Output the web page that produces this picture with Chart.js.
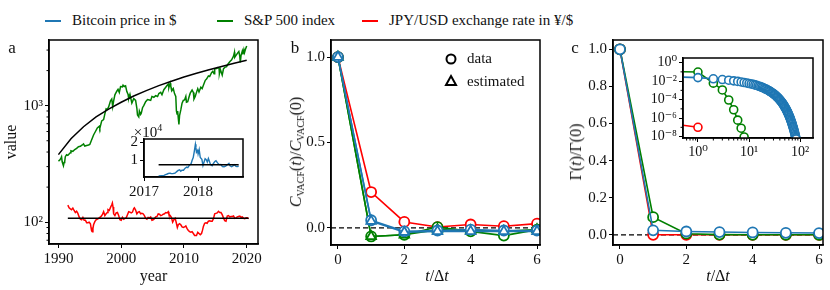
<!DOCTYPE html>
<html>
<head>
<meta charset="utf-8">
<script src="https://cdn.jsdelivr.net/npm/chart.js@4.4.0/dist/chart.umd.min.js"></script>
<style>
  body { margin: 0; width: 830px; height: 290px; background: #fff; position: relative; overflow: hidden;
         font-family: 'Liberation Serif', 'DejaVu Serif', serif; color: #111; }
  canvas { position: absolute; }
  .txt { position: absolute; white-space: nowrap; line-height: 1; }
  .lg { position: absolute; top: 12px; font-size: 15px; white-space: nowrap; display: flex; align-items: center; }
  .sw { display: inline-block; width: 16px; height: 2px; margin-right: 11px; }
  .rot { transform: translate(-50%, -50%) rotate(-90deg); }
  .ctr { transform: translate(-50%, -50%); }
  sub { font-size: 10px; vertical-align: -3px; }
</style>
</head>
<body>

<div class="lg" style="left:45px"><span class="sw" style="background:#1f77b4"></span>Bitcoin price in $</div>
<div class="lg" style="left:217px"><span class="sw" style="background:#008000"></span>S&amp;P 500 index</div>
<div class="lg" style="left:362px"><span class="sw" style="background:#ff0000"></span>JPY/USD exchange rate in ¥/$</div>

<canvas id="panelA" width="270" height="290" style="left:0;top:0"></canvas>
<canvas id="insetA" width="140" height="80" style="left:110px;top:120px"></canvas>
<canvas id="panelB" width="270" height="290" style="left:278px;top:0"></canvas>
<canvas id="panelC" width="275" height="290" style="left:555px;top:0"></canvas>
<canvas id="insetC" width="175" height="115" style="left:645px;top:45px"></canvas>

<div class="txt ctr" style="left:12px;top:47px;font-size:17px">a</div>
<div class="txt ctr" style="left:295px;top:47px;font-size:17px">b</div>
<div class="txt ctr" style="left:575px;top:47px;font-size:17px">c</div>
<div class="txt ctr" style="left:148px;top:131px;font-size:15px">×10<sup style="font-size:10px">4</sup></div>
<div class="txt rot" style="left:297px;top:152px;font-size:16px"><i>C</i><sub>VACF</sub>(<i>t</i>)/<i>C</i><sub>VACF</sub>(0)</div>
<div class="txt ctr" style="left:437px;top:276px;font-size:16px"><i>t</i>/Δ<i>t</i></div>
<div class="txt rot" style="left:576px;top:152px;font-size:16px">Γ(<i>t</i>)/Γ(0)</div>
<div class="txt ctr" style="left:718px;top:276px;font-size:16px"><i>t</i>/Δ<i>t</i></div>

<script>
// ---------- panel a: S&P 500, JPY/USD (log axis) ----------
const spYears = [1990.0, 1990.2, 1990.4, 1990.5, 1990.6, 1990.8, 1990.9, 1991.0, 1991.1, 1991.3, 1991.5, 1991.7, 1991.9,
  1992.0, 1992.3, 1992.6, 1992.9, 1993.2, 1993.5, 1993.8, 1994.0, 1994.2, 1994.5, 1994.8, 1995.0, 1995.3, 1995.6, 1995.9,
  1996.2, 1996.5, 1996.6, 1996.9, 1997.2, 1997.4, 1997.6, 1997.8, 1998.0, 1998.3, 1998.5, 1998.65, 1998.8, 1999.0, 1999.3,
  1999.5, 1999.7, 1999.9, 2000.2, 2000.3, 2000.5, 2000.7, 2000.9, 2001.1, 2001.2, 2001.4, 2001.7, 2001.8, 2002.0, 2002.3,
  2002.5, 2002.6, 2002.8, 2002.9, 2003.1, 2003.2, 2003.4, 2003.6, 2003.9, 2004.2, 2004.5, 2004.7, 2004.9, 2005.2, 2005.5,
  2005.8, 2006.0, 2006.3, 2006.5, 2006.8, 2007.1, 2007.3, 2007.5, 2007.6, 2007.8, 2007.9, 2008.1, 2008.3, 2008.5, 2008.7,
  2008.8, 2008.9, 2009.0, 2009.1, 2009.2, 2009.3, 2009.5, 2009.7, 2009.9, 2010.1, 2010.3, 2010.4, 2010.6, 2010.8, 2011.0,
  2011.3, 2011.5, 2011.6, 2011.8, 2012.0, 2012.2, 2012.4, 2012.7, 2012.9, 2013.1, 2013.4, 2013.6, 2013.9, 2014.1, 2014.4,
  2014.6, 2014.8, 2014.9, 2015.2, 2015.4, 2015.6, 2015.65, 2015.8, 2016.0, 2016.1, 2016.3, 2016.5, 2016.8, 2017.0, 2017.3,
  2017.6, 2017.9, 2018.05, 2018.1, 2018.3, 2018.6, 2018.75, 2018.9, 2018.98, 2019.1, 2019.3, 2019.4, 2019.55, 2019.65,
  2019.8, 2020.0];
const spValues = [335, 340, 355, 365, 330, 305, 325, 330, 365, 380, 375, 385, 395,
  410, 405, 420, 430, 445, 448, 460, 470, 450, 455, 460, 465, 510, 560, 600,
  645, 665, 640, 740, 760, 850, 940, 930, 975, 1100, 1140, 980, 1100, 1240, 1330,
  1380, 1300, 1460, 1450, 1500, 1460, 1480, 1320, 1250, 1150, 1250, 1050, 1080, 1150, 1110,
  950, 830, 800, 900, 840, 860, 960, 1000, 1080, 1130, 1120, 1110, 1200, 1180, 1220,
  1200, 1270, 1300, 1240, 1370, 1440, 1490, 1530, 1430, 1560, 1470, 1350, 1400, 1270, 1200,
  900, 850, 900, 780, 690, 820, 920, 1050, 1110, 1120, 1200, 1070, 1080, 1180, 1280,
  1360, 1300, 1140, 1200, 1300, 1400, 1310, 1440, 1400, 1500, 1650, 1690, 1800, 1780, 1920,
  1970, 1880, 2070, 2080, 2120, 2090, 1880, 2050, 1900, 1830, 2070, 2130, 2160, 2270, 2380,
  2470, 2660, 2870, 2600, 2700, 2850, 2920, 2650, 2350, 2700, 2940, 2750, 3020, 2850,
  3050, 3250];
const spFitYears = [1990, 1992, 1994, 1996, 1998, 2000, 2002, 2004, 2006, 2008, 2010, 2012, 2014, 2016, 2018, 2020];
const spFitValues = [380, 520, 660, 800, 935, 1070, 1210, 1345, 1485, 1620, 1760, 1895, 2035, 2170, 2310, 2450];

const jpyYears = [1991.5, 1991.7, 1991.9, 1992.1, 1992.3, 1992.5, 1992.7, 1992.9, 1993.1, 1993.3, 1993.5, 1993.7, 1993.9,
  1994.1, 1994.3, 1994.5, 1994.7, 1994.9, 1995.1, 1995.2, 1995.3, 1995.4, 1995.5, 1995.6, 1995.8, 1996.0, 1996.3, 1996.5,
  1996.8, 1997.0, 1997.2, 1997.4, 1997.6, 1997.8, 1997.9, 1998.1, 1998.3, 1998.5, 1998.6, 1998.7, 1998.8, 1999.0, 1999.2,
  1999.4, 1999.6, 1999.8, 2000.0, 2000.2, 2000.4, 2000.6, 2000.8, 2001.0, 2001.2, 2001.4, 2001.6, 2001.8, 2002.0, 2002.1,
  2002.3, 2002.5, 2002.7, 2002.9, 2003.1, 2003.3, 2003.5, 2003.7, 2003.9, 2004.1, 2004.3, 2004.5, 2004.7, 2004.9, 2005.1,
  2005.3, 2005.5, 2005.7, 2005.9, 2006.1, 2006.3, 2006.5, 2006.7, 2006.9, 2007.1, 2007.3, 2007.5, 2007.6, 2007.8, 2008.0,
  2008.2, 2008.4, 2008.6, 2008.8, 2008.95, 2009.1, 2009.3, 2009.5, 2009.7, 2009.9, 2010.1, 2010.3, 2010.5, 2010.7, 2010.9,
  2011.1, 2011.3, 2011.5, 2011.7, 2011.85, 2012.0, 2012.2, 2012.4, 2012.6, 2012.8, 2012.95, 2013.1, 2013.3, 2013.5, 2013.7,
  2013.9, 2014.1, 2014.3, 2014.5, 2014.7, 2014.9, 2015.1, 2015.3, 2015.5, 2015.7, 2015.9, 2016.1, 2016.3, 2016.5, 2016.7,
  2016.9, 2017.1, 2017.3, 2017.5, 2017.7, 2017.9, 2018.1, 2018.3, 2018.5, 2018.7, 2018.9, 2019.1, 2019.3, 2019.5, 2019.7,
  2019.9, 2020.1, 2020.3];
const jpyValues = [140, 133, 130, 128, 132, 126, 121, 124, 119, 111, 106, 105, 110,
  104, 104, 99, 99, 100, 97, 90, 84, 83, 88, 95, 101, 105, 107, 109,
  112, 116, 123, 114, 118, 121, 128, 126, 134, 141, 146, 135, 118, 114, 120,
  121, 114, 105, 104, 110, 106, 108, 109, 116, 123, 122, 120, 122, 131, 133,
  127, 118, 122, 123, 118, 119, 118, 114, 108, 106, 110, 109, 111, 104, 105,
  107, 111, 112, 118, 117, 114, 115, 117, 118, 121, 120, 123, 117, 114, 110,
  100, 105, 108, 98, 90, 95, 97, 95, 91, 90, 91, 93, 88, 85, 83,
  82, 83, 80, 77, 77, 77, 82, 80, 78, 80, 85, 92, 98, 99, 98,
  102, 103, 102, 102, 107, 118, 119, 120, 124, 121, 121, 116, 109, 103, 102,
  113, 114, 111, 112, 112, 113, 108, 109, 111, 112, 113, 110, 111, 108, 107,
  109, 109, 107];
const jpyMeanYears = [1991.5, 2020.3];
const jpyMeanValues = [108, 108];

const yearTicks = [1990, 2000, 2010, 2020];
const valueTicks = [100, 1000];
const valueTickLabels = ['10²', '10³'];
const valueMinorTicks = [70, 80, 90, 200, 300, 400, 500, 600, 700, 800, 900, 2000, 3000];

// ---------- inset of panel a: Bitcoin ----------
const btcYears = [2017.27, 2017.32, 2017.37, 2017.4, 2017.43, 2017.45, 2017.48, 2017.5, 2017.53, 2017.56, 2017.58, 2017.6,
  2017.63, 2017.66, 2017.68, 2017.7, 2017.73, 2017.76, 2017.79, 2017.81, 2017.84, 2017.87, 2017.89, 2017.91, 2017.93,
  2017.95, 2017.96, 2017.97, 2017.99, 2018.0, 2018.02, 2018.04, 2018.07, 2018.09, 2018.11, 2018.13, 2018.15, 2018.17,
  2018.19, 2018.21, 2018.23, 2018.26, 2018.28, 2018.31, 2018.33, 2018.36, 2018.39, 2018.42, 2018.45, 2018.48, 2018.51,
  2018.54, 2018.57, 2018.59, 2018.62, 2018.65, 2018.67, 2018.7, 2018.72, 2018.75];
const btcValues = [1100, 1250, 1400, 1800, 2200, 2500, 2700, 2500, 2400, 2600, 2800, 3400,
  4200, 4500, 3800, 4300, 4300, 5500, 6100, 5800, 7200, 8000, 10000, 11500, 15000,
  19000, 17000, 14500, 15500, 13500, 16000, 11500, 10500, 7000, 9000, 10800, 10300, 9000,
  11000, 9300, 7500, 6900, 8000, 9300, 9700, 8500, 7500, 7600, 6400, 6300, 6600,
  7400, 8200, 6800, 6300, 6900, 7400, 6500, 6400, 6600];
const btcMeanYears = [2017.27, 2018.75];
const btcMeanValues = [7400, 7400];
const btcYearTicks = [2017, 2018];
const btcValueTicks = [10000, 20000];

// ---------- panel b: velocity autocorrelation ----------
const lags = [0, 1, 2, 3, 4, 5, 6];
const vacfBtc = [1.0, 0.045, -0.02, -0.015, -0.01, -0.015, -0.015];
const vacfSp = [1.0, -0.05, -0.04, 0.005, -0.02, -0.045, -0.01];
const vacfJpy = [1.0, 0.21, 0.035, 0.005, 0.02, 0.01, 0.025];
const vacfBtcEst = [1.0, 0.04, -0.025, -0.02, -0.02, -0.02, -0.02];
const vacfSpEst = [1.0, -0.05, -0.04, -0.01, -0.015, -0.02, -0.01];
const lagTicks = [0, 2, 4, 6];
const vacfTicks = [0, 0.5, 1.0];

// ---------- panel c: memory kernel Γ(t)/Γ(0) ----------
const gammaSp = [1, 0.095, 6e-3, 1.1e-3, 9e-5, 8e-6, 6e-7, 8e-8, 9e-9];
const gammaJpy = [1, 1e-7, 0, 0, 0, 0, 0];
const gammaBtc = [1, 0.024, 0.0178, 0.0148, 0.0126, 0.0107, 0.0093, 0.0081, 0.0071, 0.0063, 0.0055,
  0.0049, 0.0044, 0.0039, 0.0035, 0.0030, 0.0027, 0.0024, 0.0021, 0.0019, 0.0016,
  0.0014, 0.0013, 0.0011, 9.8e-4, 8.5e-4, 7.4e-4, 6.5e-4, 5.6e-4, 4.9e-4, 4.3e-4,
  3.7e-4, 3.2e-4, 2.8e-4, 2.4e-4, 2.0e-4, 1.8e-4, 1.5e-4, 1.3e-4, 1.1e-4, 9.3e-5,
  7.9e-5, 6.8e-5, 5.8e-5, 4.8e-5, 4.1e-5, 3.4e-5, 2.8e-5, 2.3e-5, 1.9e-5, 1.6e-5,
  1.3e-5, 1.1e-5, 9.1e-6, 7.4e-6, 6.0e-6, 4.9e-6, 4.0e-6, 3.2e-6, 2.6e-6, 2.1e-6,
  1.7e-6, 1.3e-6, 1.1e-6, 8.5e-7, 6.8e-7, 5.4e-7, 4.2e-7, 3.3e-7, 2.6e-7, 2.0e-7,
  1.5e-7, 1.2e-7, 9.3e-8, 7.1e-8, 5.5e-8, 4.2e-8, 3.2e-8, 2.4e-8, 1.8e-8, 1.3e-8,
  1.0e-8, 7.6e-9, 5.6e-9];
const gammaTicks = [0, 0.2, 0.4, 0.6, 0.8, 1.0];
const insetLagTicks = [1, 10, 100];
const insetLagLabels = ['10⁰', '10¹', '10²'];
const insetLagMinorTicks = [0.6, 0.7, 0.8, 0.9, 2, 3, 4, 5, 6, 7, 8, 9, 20, 30, 40, 50, 60, 70, 80, 90];
const insetGammaTicks = [1, 1e-2, 1e-4, 1e-6, 1e-8];
const insetGammaLabels = ['10⁰', '10⁻²', '10⁻⁴', '10⁻⁶', '10⁻⁸'];
const insetGammaMinorTicks = [1e-1, 1e-3, 1e-5, 1e-7];

// ---------- styling ----------
const FONT = "'Liberation Serif', 'DejaVu Serif', serif";
const BLUE = '#1f77b4', GREEN = '#008000', RED = '#ff0000';

const framePlugin = {
  id: 'frame',
  beforeDraw(chart, args, opts) {
    if (!opts.fill) return;
    const a = chart.chartArea, ctx = chart.ctx;
    ctx.save();
    ctx.fillStyle = '#fff';
    ctx.fillRect(a.left, a.top, a.right - a.left, a.bottom - a.top);
    ctx.restore();
  },
  beforeDatasetsDraw(chart, args, opts) {
    if (!opts.zeroLine) return;
    const a = chart.chartArea, ctx = chart.ctx;
    const y = chart.scales.y.getPixelForValue(0);
    ctx.save();
    ctx.strokeStyle = '#000';
    ctx.lineWidth = 1.3;
    ctx.setLineDash([5, 3]);
    ctx.beginPath();
    ctx.moveTo(a.left, y);
    ctx.lineTo(a.right, y);
    ctx.stroke();
    ctx.restore();
  },
  afterDraw(chart, args, opts) {
    const a = chart.chartArea, ctx = chart.ctx;
    ctx.save();
    ctx.strokeStyle = '#000';
    ctx.lineWidth = 1;
    // short minor ticks on log axes
    (opts.minorX || []).forEach((v) => {
      const x = chart.scales.x.getPixelForValue(v);
      if (x <= a.left || x >= a.right) return;
      ctx.beginPath(); ctx.moveTo(x, a.bottom); ctx.lineTo(x, a.bottom + 2.5); ctx.stroke();
    });
    (opts.minorY || []).forEach((v) => {
      const y = chart.scales.y.getPixelForValue(v);
      if (y <= a.top || y >= a.bottom) return;
      ctx.beginPath(); ctx.moveTo(a.left, y); ctx.lineTo(a.left - 2.5, y); ctx.stroke();
    });
    ctx.lineWidth = 1.5;
    ctx.strokeRect(a.left, a.top, a.right - a.left, a.bottom - a.top);
    ctx.restore();
  }
};

// legend with the two marker kinds in panel b
const markerLegend = {
  id: 'markerLegend',
  afterDraw(chart) {
    const a = chart.chartArea, ctx = chart.ctx;
    const mx = a.right - 89;
    ctx.save();
    ctx.strokeStyle = '#000';
    ctx.lineWidth = 2;
    ctx.beginPath();
    ctx.arc(mx, 59, 4.5, 0, Math.PI * 2);
    ctx.stroke();
    ctx.beginPath();
    ctx.moveTo(mx, 76);
    ctx.lineTo(mx + 5, 85);
    ctx.lineTo(mx - 5, 85);
    ctx.closePath();
    ctx.stroke();
    ctx.fillStyle = '#111';
    ctx.font = '15px ' + FONT;
    ctx.textBaseline = 'middle';
    ctx.fillText('data', mx + 16, 59);
    ctx.fillText('estimated', mx + 16, 82);
    ctx.restore();
  }
};

function pts(xs, ys) {
  return xs.map((x, i) => ({ x: x, y: ys[i] }));
}

function plainLine(data, color, width) {
  return { data: data, borderColor: color, borderWidth: width, pointRadius: 0, fill: false, tension: 0 };
}

function markedLine(data, color, style, radius, showLine) {
  return {
    data: data, borderColor: color, borderWidth: 1.6, showLine: showLine, tension: 0,
    pointStyle: style, pointRadius: radius, pointBorderWidth: 1.8,
    pointBorderColor: color, pointBackgroundColor: '#fff'
  };
}

function axis(cfg) {
  const ax = {
    type: cfg.type || 'linear',
    min: cfg.min, max: cfg.max,
    grid: { display: true, drawOnChartArea: false, drawTicks: true, tickLength: 4, color: '#000' },
    border: { display: true, color: '#000', width: 1.5 },
    ticks: {
      color: '#111', font: { family: FONT, size: cfg.fontSize || 15 }, padding: cfg.pad || 2,
      autoSkip: false, maxRotation: 0,
      callback: cfg.labels ? (v) => cfg.labels[cfg.ticks.indexOf(v)] : cfg.format
    },
    afterBuildTicks: (s) => { s.ticks = cfg.ticks.map((v) => ({ value: v })); }
  };
  if (cfg.width) ax.afterFit = (s) => { s.width = cfg.width; };
  if (cfg.height) ax.afterFit = (s) => { s.height = cfg.height; };
  if (cfg.title) {
    ax.title = { display: true, text: cfg.title, color: '#111', font: { family: FONT, size: 16 }, padding: { top: 2, bottom: 4 } };
  }
  return ax;
}

function baseOptions(padding, scales, pluginOpts) {
  return {
    responsive: false, animation: false, events: [],
    layout: { padding: padding },
    scales: scales,
    plugins: Object.assign({ legend: { display: false }, tooltip: { enabled: false } }, pluginOpts || {})
  };
}

// ---------- panel a ----------
new Chart(document.getElementById('panelA'), {
  type: 'line',
  data: {
    datasets: [
      plainLine(pts(spFitYears, spFitValues), '#000', 1.5),
      plainLine(pts(jpyMeanYears, jpyMeanValues), '#000', 1.5),
      plainLine(pts(spYears, spValues), GREEN, 1.5),
      plainLine(pts(jpyYears, jpyValues), RED, 1.5)
    ]
  },
  options: baseOptions({ top: 40, right: 12, left: 0, bottom: 0 }, {
    x: axis({ min: 1988.5, max: 2021.8, ticks: yearTicks, format: (v) => String(v), height: 46, title: 'year' }),
    y: axis({ type: 'logarithmic', min: 65, max: 3660, ticks: valueTicks, labels: valueTickLabels, width: 49, title: 'value' })
  }, { frame: { minorY: valueMinorTicks } }),
  plugins: [framePlugin]
});

// inset: Bitcoin price
new Chart(document.getElementById('insetA'), {
  type: 'line',
  data: {
    datasets: [
      plainLine(pts(btcMeanYears, btcMeanValues), '#000', 1.5),
      plainLine(pts(btcYears, btcValues), BLUE, 1.4)
    ]
  },
  options: baseOptions({ top: 19, right: 7, left: 0, bottom: 0 }, {
    x: axis({ min: 2017.0, max: 2018.83, ticks: btcYearTicks, format: (v) => String(v), height: 23 }),
    y: axis({ min: 500, max: 22000, ticks: btcValueTicks, format: (v) => String(v / 10000), width: 34 })
  }, { frame: { fill: true } }),
  plugins: [framePlugin]
});

// ---------- panel b ----------
new Chart(document.getElementById('panelB'), {
  type: 'line',
  data: {
    datasets: [
      markedLine(pts(lags, vacfBtcEst), BLUE, 'triangle', 5.5, true),
      markedLine(pts(lags, vacfBtc), BLUE, 'circle', 5, true),
      markedLine(pts(lags, vacfSpEst), GREEN, 'triangle', 5.5, true),
      markedLine(pts(lags, vacfSp), GREEN, 'circle', 5, true),
      markedLine(pts(lags, vacfJpy), RED, 'circle', 5, true)
    ]
  },
  options: baseOptions({ top: 40, right: 8, left: 0, bottom: 0 }, {
    x: axis({ min: -0.21, max: 6.09, ticks: lagTicks, format: (v) => String(v), height: 45 }),
    y: axis({ min: -0.1, max: 1.1, ticks: vacfTicks, format: (v) => v.toFixed(1), width: 53 })
  }, { frame: { zeroLine: true } }),
  plugins: [framePlugin, markerLegend]
});

// ---------- panel c ----------
new Chart(document.getElementById('panelC'), {
  type: 'line',
  data: {
    datasets: [
      markedLine(pts(lags, gammaBtc.slice(0, 7)), BLUE, 'circle', 5, true),
      markedLine(pts(lags, gammaSp.slice(0, 7)), GREEN, 'circle', 5, true),
      markedLine(pts(lags, gammaJpy), RED, 'circle', 5, true)
    ]
  },
  options: baseOptions({ top: 40, right: 7, left: 0, bottom: 0 }, {
    x: axis({ min: -0.21, max: 6.12, ticks: lagTicks, format: (v) => String(v), height: 45 }),
    y: axis({ min: -0.055, max: 1.05, ticks: gammaTicks, format: (v) => v.toFixed(1), width: 58 })
  }, { frame: { zeroLine: true } }),
  plugins: [framePlugin]
});

// inset: log-log view; t = 0 is pushed far off the left edge as a log axis clips it
function logLags(values) {
  return values.map((v, t) => ({ x: t === 0 ? 1e-9 : t, y: v }));
}
const showPositive = (ctx) => (ctx.raw && ctx.raw.y > 0 ? 4 : 0);
const insetSets = [
  markedLine(logLags(gammaBtc), BLUE, 'circle', 4, true),
  markedLine(logLags(gammaSp), GREEN, 'circle', 4, true),
  markedLine(logLags(gammaJpy), RED, 'circle', 4, true)
];
insetSets.forEach((d) => { d.pointRadius = showPositive; d.pointBorderWidth = 1.6; });

new Chart(document.getElementById('insetC'), {
  type: 'line',
  data: { datasets: insetSets },
  options: baseOptions({ top: 13, right: 7, left: 0, bottom: 0 }, {
    x: axis({ type: 'logarithmic', min: 0.51, max: 178, ticks: insetLagTicks, labels: insetLagLabels, height: 22, fontSize: 14 }),
    y: axis({ type: 'logarithmic', min: 7.2e-9, max: 3.16, ticks: insetGammaTicks, labels: insetGammaLabels, width: 38, fontSize: 14 })
  }, { frame: { fill: true, minorX: insetLagMinorTicks, minorY: insetGammaMinorTicks } }),
  plugins: [framePlugin]
});
</script>
</body>
</html>
